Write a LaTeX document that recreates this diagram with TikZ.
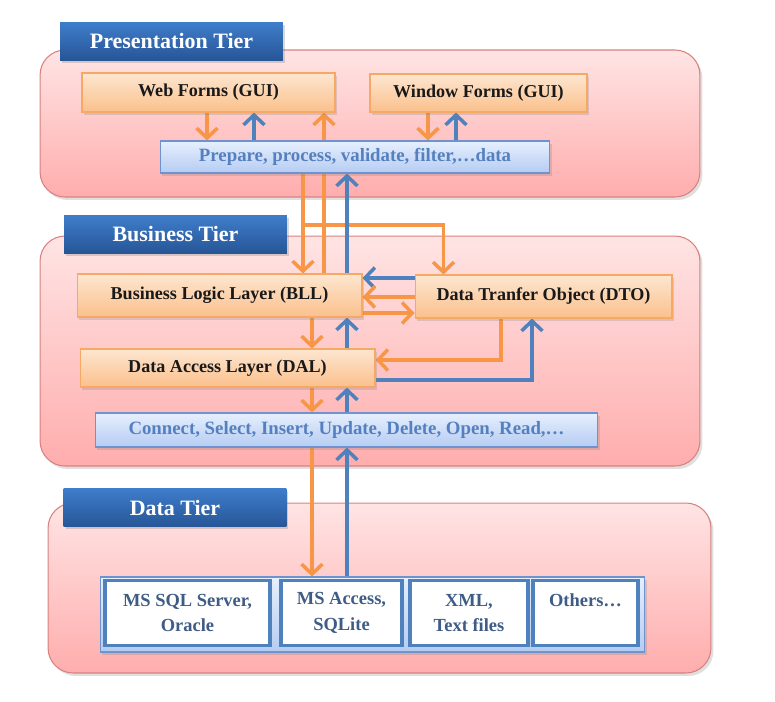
\documentclass[tikz,border=0pt]{standalone}
\usepackage{fontspec}
\setmainfont{Liberation Serif}
\usepackage{tikz}
\usetikzlibrary{arrows.meta,shadows}
\definecolor{tierpink}{HTML}{FFE4E4}
\definecolor{tierpinkdark}{HTML}{FFADAD}
\definecolor{tierline}{HTML}{D8817E}
\definecolor{tierblue}{HTML}{3F7DCB}
\definecolor{tierbluedark}{HTML}{275697}
\definecolor{layerlight}{HTML}{FDE6D0}
\definecolor{layerdark}{HTML}{FBC08C}
\definecolor{layerline}{HTML}{F6A865}
\definecolor{proclight}{HTML}{E6EFFE}
\definecolor{procdark}{HTML}{B5CCF2}
\definecolor{procline}{HTML}{6F93CE}
\definecolor{proctext}{HTML}{5580BF}
\definecolor{storetext}{HTML}{3E5C86}
\definecolor{wireorange}{HTML}{F79646}
\definecolor{wireblue}{HTML}{4F81BD}
\pgfdeclarelayer{tier}
\pgfdeclarelayer{wires}
\pgfsetlayers{tier,wires,main}
\tikzset{
    tierbox/.style={rounded corners=0.5cm, draw=tierline, line width=0.6pt,
        top color=tierpink, bottom color=tierpinkdark,
        drop shadow={opacity=0.25, shadow xshift=0.05cm, shadow yshift=-0.06cm}},
    tierlabel/.style={top color=tierblue, bottom color=tierbluedark, text=white,
        minimum width=4.46cm, minimum height=0.76cm,
        font=\fontsize{12.5}{14}\selectfont\bfseries,
        drop shadow={opacity=0.3, shadow xshift=0.04cm, shadow yshift=-0.05cm}},
    layerbox/.style={draw=layerline, line width=0.6pt,
        top color=layerlight, bottom color=layerdark, text=black!90,
        font=\fontsize{10.3}{12}\selectfont\bfseries,
        drop shadow={opacity=0.25, shadow xshift=0.04cm, shadow yshift=-0.05cm}},
    procbox/.style={draw=procline, line width=0.6pt,
        top color=proclight, bottom color=procdark, text=proctext,
        font=\fontsize{10.7}{12}\selectfont\bfseries,
        drop shadow={opacity=0.25, shadow xshift=0.04cm, shadow yshift=-0.05cm}},
    storebox/.style={draw=wireblue, line width=2.2pt, fill=white, text=storetext,
        align=center, minimum height=1.3cm,
        font=\fontsize{10.5}{14.5}\selectfont\bfseries},
    oarr/.style={draw=wireorange, line width=2pt, -{Straight Barb[length=2mm,width=4.2mm]}},
    barr/.style={draw=wireblue, line width=2pt, -{Straight Barb[length=2mm,width=4.2mm]}},
}

\begin{document}
\begin{tikzpicture}[x=0.02cm, y=-0.02cm]
    \useasboundingbox (0,0) rectangle (775,701);

    % the three tiers
    \begin{pgfonlayer}{tier}
        \node[tierbox, minimum width=13.2cm, minimum height=2.94cm] (pres) at (370,123.5) {};
        \node[tierbox, minimum width=13.2cm, minimum height=4.6cm] (bus) at (370,351) {};
        \node[tierbox, minimum width=13.26cm, minimum height=3.4cm] (data) at (379.5,588) {};
    \end{pgfonlayer}
    \node[tierlabel] (presLbl) at (171.5,41) {Presentation Tier};
    \node[tierlabel] (busLbl) at (175.5,234) {Business Tier};
    \node[tierlabel] (dataLbl) at (175,507.5) {Data Tier};

    % presentation tier
    \node[layerbox, minimum width=5.06cm, minimum height=0.78cm] (web) at (208.5,92.5) {Web Forms (GUI)};
    \node[layerbox, minimum width=4.34cm, minimum height=0.76cm] (win) at (478.5,93) {Window Forms (GUI)};
    \node[procbox, minimum width=7.8cm, minimum height=0.64cm] (prep) at (355,157) {Prepare, process, validate, filter,\dots data};

    % business tier
    \node[layerbox, minimum width=5.7cm, minimum height=0.86cm] (bll) at (219.5,295.5) {Business Logic Layer (BLL)};
    \node[layerbox, minimum width=5.14cm, minimum height=0.86cm] (dto) at (543.5,296.5) {Data Tranfer Object (DTO)};
    \node[layerbox, minimum width=5.9cm, minimum height=0.76cm] (dal) at (227.5,368) {Data Access Layer (DAL)};
    \node[procbox, minimum width=10.06cm, minimum height=0.68cm] (conn) at (346.5,430) {Connect, Select, Insert, Update, Delete, Open, Read,\dots};

    % data tier
    \node[draw=procline, line width=0.6pt, top color=proclight, bottom color=procdark,
        minimum width=10.9cm, minimum height=1.5cm,
        drop shadow={opacity=0.25, shadow xshift=0.04cm, shadow yshift=-0.05cm}] (store) at (372.5,614.5) {};
    \node[storebox, minimum width=3.3cm] (sql) at (187.5,613) {MS SQL Server,\\Oracle};
    \node[storebox, minimum width=2.42cm] (acc) at (341.5,613) {MS Access,\\SQLite};
    \node[storebox, minimum width=2.36cm] (xml) at (469,613) {XML,\\Text files};
    \node[storebox, minimum width=2.1cm] (oth) at (585.5,613) {Others\dots\\\mbox{}};

    \coordinate (split) at (303,225);

    \begin{pgfonlayer}{wires}
        % presentation
        \draw[oarr] (web.south -| 207,0) -- (prep.north -| 207,0);
        \draw[barr] (prep.north -| 254,0) -- (web.south -| 254,0);
        \draw[oarr] (bll.north -| 324,0) -- (web.south -| 324,0);
        \draw[oarr] (win.south -| 428,0) -- (prep.north -| 428,0);
        \draw[barr] (prep.north -| 456,0) -- (win.south -| 456,0);
        % presentation <-> business
        \draw[oarr] (prep.south -| split) -- (bll.north -| split);
        \draw[oarr] (split) -| ([xshift=-2cm]dto.north);
        \draw[barr] (bll.north -| 347,0) -- (prep.south -| 347,0);
        % business
        \draw[barr] (dto.west |- 0,278) -- (bll.east |- 0,278);
        \draw[oarr] (dto.west |- 0,297) -- (bll.east |- 0,297);
        \draw[oarr] (bll.east |- 0,313) -- (dto.west |- 0,313);
        \draw[oarr] (bll.south -| 312,0) -- (dal.north -| 312,0);
        \draw[barr] (dal.north -| 347,0) -- (bll.south -| 347,0);
        \draw[oarr] (dto.south -| 501,0) |- (dal.east |- 0,360);
        \draw[barr] (dal.east |- 0,380) -| (dto.south -| 532,0);
        \draw[oarr] (dal.south -| 312,0) -- (conn.north -| 312,0);
        \draw[barr] (conn.north -| 347,0) -- (dal.south -| 347,0);
        % business <-> data
        \draw[oarr] (conn.south -| 312,0) -- (store.north -| 312,0);
        \draw[barr] (store.north -| 347,0) -- (conn.south -| 347,0);
    \end{pgfonlayer}
\end{tikzpicture}
\end{document}
